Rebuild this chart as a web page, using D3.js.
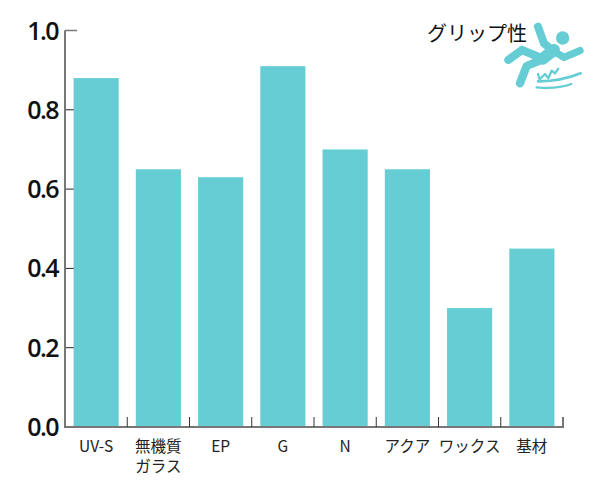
<!DOCTYPE html>
<html><head><meta charset="utf-8">
<script src="https://cdn.jsdelivr.net/npm/d3@7/dist/d3.min.js"></script>
<style>html,body{margin:0;padding:0;background:#fff}svg{display:block}</style>
</head><body><svg id="c" width="600" height="480"></svg>
<script>
const categories = ["UV-S","無機質\nガラス","EP","G","N","アクア","ワックス","基材"];
const values = [0.88,0.65,0.63,0.91,0.70,0.65,0.30,0.45];
const yTicks = [0,0.2,0.4,0.6,0.8,1.0];
const legendLabel = "グリップ性";

const svg = d3.select("#c");
const x = d3.scaleBand().domain(categories).range([65,563]).paddingInner(0.275).paddingOuter(0.1375);
const y = d3.scaleLinear().domain([0,1]).range([427,30.5]);
const jp = "'Noto Sans CJK JP','Noto Sans',sans-serif";

svg.append("g").selectAll("line").data(yTicks).join("line")
  .attr("x1",65).attr("x2",d=>d===1||d===0?77:75)
  .attr("y1",d=>y(d)).attr("y2",d=>y(d))
  .attr("stroke",d=>d===1?"#777":"#222").attr("stroke-width",1);

svg.append("g").selectAll("rect").data(values).join("rect")
  .attr("x",(d,i)=>x(categories[i])).attr("width",x.bandwidth())
  .attr("y",d=>y(d)).attr("height",d=>y(0)-y(d))
  .attr("fill","#66cdd5");

svg.append("path").attr("d",`M65,${y(1)}V${y(0)}H563V${y(0)-10}`)
  .attr("fill","none").attr("stroke","#777").attr("stroke-width",2);
svg.append("path").attr("d",`M65,${y(1)}H77`).attr("stroke","#777").attr("stroke-width",1.5);

svg.append("g").selectAll("line").data(categories.slice(1)).join("line")
  .attr("x1",d=>x(d)-x.step()*x.paddingInner()/2).attr("x2",d=>x(d)-x.step()*x.paddingInner()/2)
  .attr("y1",y(0)).attr("y2",y(0)-10).attr("stroke","#333").attr("stroke-width",1);

svg.append("g").selectAll("text").data(yTicks).join("text")
  .attr("x",58).attr("y",d=>y(d)+9).attr("text-anchor","end")
  .attr("font-family","'Open Sans',sans-serif").attr("font-weight",600)
  .attr("font-size",25).attr("letter-spacing",-1.6).attr("fill","#111")
  .text(d=>d.toFixed(1));

const lab = svg.append("g").selectAll("text").data(categories).join("text")
  .attr("text-anchor","middle").attr("font-family",jp).attr("font-size",15.5).attr("fill","#222");
lab.each(function(d){
  const t=d3.select(this), cx=x(d)+x.bandwidth()/2;
  d.split("\n").forEach((s,i)=>t.append("tspan").attr("x",cx).attr("y",452+i*20).text(s));
});

svg.append("text").attr("x",527).attr("y",41).attr("text-anchor","end")
  .attr("font-family",jp).attr("font-size",20).attr("fill","#111").text(legendLabel);

const icon = svg.append("g").attr("transform","translate(420,10) scale(0.3333)")
  .attr("fill","none").attr("stroke","#66cdd5").attr("stroke-linecap","round").attr("stroke-linejoin","round");
icon.append("circle").attr("cx",428).attr("cy",84).attr("r",20).attr("fill","#66cdd5").attr("stroke","none");
icon.append("path").attr("stroke-width",24).attr("d","M354,50L372,100L398,122");
icon.append("path").attr("stroke-width",22).attr("d","M398,122L432,142L480,122");
icon.append("path").attr("stroke-width",36).attr("d","M402,120L368,146");
icon.append("path").attr("stroke-width",25).attr("d","M368,146L306,120L265,150");
icon.append("path").attr("stroke-width",25).attr("d","M368,148L320,168L300,220");
icon.append("path").attr("stroke-width",7).attr("d","M354,192L359,208L375,192L385,205L395,182L405,190L415,176");
icon.append("path").attr("stroke-width",8).attr("d","M354,214Q420,215 482,190");
icon.append("path").attr("stroke-width",7).attr("d","M350,232Q410,238 454,222");
</script></body></html>
